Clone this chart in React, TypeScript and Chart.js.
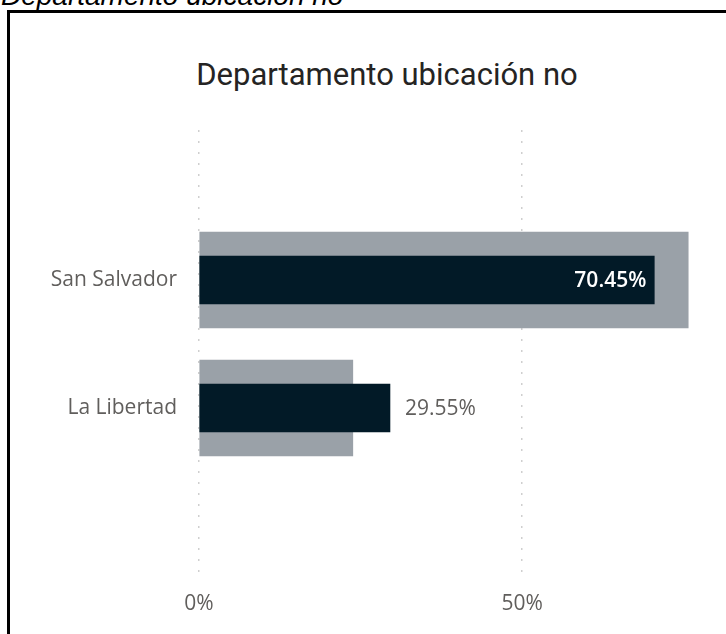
import React, { useEffect, useRef } from "react";
import { Chart, registerables } from "chart.js";

Chart.register(...registerables);

const titleText = "Departamento ubicación no";
const categories = ["San Salvador", "La Libertad"];
const shareValues = [70.45, 29.55];
const referenceValues = [75.7, 23.8];
const xTickValues = [0, 50];

const LABEL_FONT = "'Open Sans', 'DejaVu Sans', sans-serif";

const dataLabelPlugin = {
  id: "dataLabels",
  afterDatasetsDraw(chart: any) {
    const meta = chart.getDatasetMeta(0);
    const ctx = chart.ctx;
    ctx.save();
    ctx.textBaseline = "middle";
    meta.data.forEach((bar: any, i: number) => {
      const v = shareValues[i];
      const text = v.toFixed(2) + "%";
      if (v > 50) {
        ctx.font = `600 21px ${LABEL_FONT}`;
        ctx.fillStyle = "#ffffff";
        ctx.textAlign = "right";
        ctx.fillText(text, bar.x - 8, bar.y + 1);
      } else {
        ctx.font = `21px ${LABEL_FONT}`;
        ctx.fillStyle = "#605E5C";
        ctx.textAlign = "left";
        ctx.fillText(text, bar.x + 15, bar.y + 1);
      }
    });
    ctx.restore();
  },
};

function BarChart() {
  const ref = useRef<HTMLCanvasElement | null>(null);
  useEffect(() => {
    if (!ref.current) return;
    const chart = new Chart(ref.current, {
      type: "bar",
      data: {
        datasets: [
          {
            label: "Share",
            data: shareValues.map((v, i) => ({ x: v, y: i })),
            backgroundColor: "#021a27",
            barThickness: 48,
            grouped: false,
          } as any,
          {
            label: "Reference",
            data: referenceValues.map((v, i) => ({ x: v, y: i })),
            backgroundColor: "#9aa1a8",
            barThickness: 96,
            grouped: false,
          } as any,
        ],
      },
      options: {
        indexAxis: "y",
        animation: false,
        responsive: false,
        devicePixelRatio: 1,
        layout: { padding: { top: 10, right: 10, left: 0, bottom: 0 } },
        plugins: {
          legend: { display: false },
          tooltip: { enabled: false },
          title: { display: false },
        },
        scales: {
          x: {
            type: "linear",
            min: 0,
            max: 80,
            border: { display: false, dash: [2, 9] },
            grid: {
              color: "#cfcfcf",
              lineWidth: 1.5,
              drawTicks: false,
            },
            ticks: {
              padding: 13,
              color: "#605E5C",
              font: { family: LABEL_FONT, size: 21 },
              callback: (v: any) => v + "%",
            },
            afterBuildTicks: (scale: any) => {
              scale.ticks = xTickValues.map((v) => ({ value: v }));
            },
            afterFit: (scale: any) => {
              scale.height = 56;
              scale.paddingLeft = 0;
              scale.paddingRight = 0;
            },
          } as any,
          y: {
            type: "linear",
            reverse: true,
            offset: false,
            min: -1.172,
            max: 2.328,
            border: { display: false },
            grid: { display: false, drawTicks: false },
            ticks: {
              padding: 22,
              autoSkip: false,
              color: "#605E5C",
              font: { family: LABEL_FONT, size: 21 },
              callback: (v: any) => categories[v] ?? "",
            },
            afterBuildTicks: (scale: any) => {
              scale.ticks = categories.map((_, i) => ({ value: i }));
            },
            afterFit: (scale: any) => {
              scale.width = 189;
              scale.paddingTop = 0;
              scale.paddingBottom = 0;
            },
          } as any,
        },
      },
      plugins: [dataLabelPlugin],
    });
    return () => chart.destroy();
  }, []);
  return <canvas ref={ref} width={716} height={514} style={{ display: "block" }} />;
}

export default function App() {
  return (
    <div
      style={{
        position: "absolute",
        left: 0,
        top: 0,
        width: 726,
        height: 634,
        overflow: "hidden",
        background: "#ffffff",
      }}
    >
      <div
        style={{
          position: "absolute",
          left: 1,
          top: -18,
          fontFamily: "'Liberation Sans', Arial, sans-serif",
          fontStyle: "italic",
          fontSize: 28,
          lineHeight: "27px",
          color: "#000",
          whiteSpace: "nowrap",
        }}
      >
        {titleText}
      </div>
      <div
        style={{
          position: "absolute",
          left: 7,
          top: 10,
          width: 800,
          height: 700,
          border: "3px solid #000",
          boxSizing: "border-box",
        }}
      />
      <div
        style={{
          position: "absolute",
          left: 0,
          top: 60,
          width: 774,
          textAlign: "center",
          fontFamily: "Roboto, 'Open Sans', sans-serif",
          fontSize: 31,
          lineHeight: "30px",
          color: "#252423",
          whiteSpace: "nowrap",
        }}
      >
        {titleText}
      </div>
      <div style={{ position: "absolute", left: 10, top: 120 }}>
        <BarChart />
      </div>
    </div>
  );
}
